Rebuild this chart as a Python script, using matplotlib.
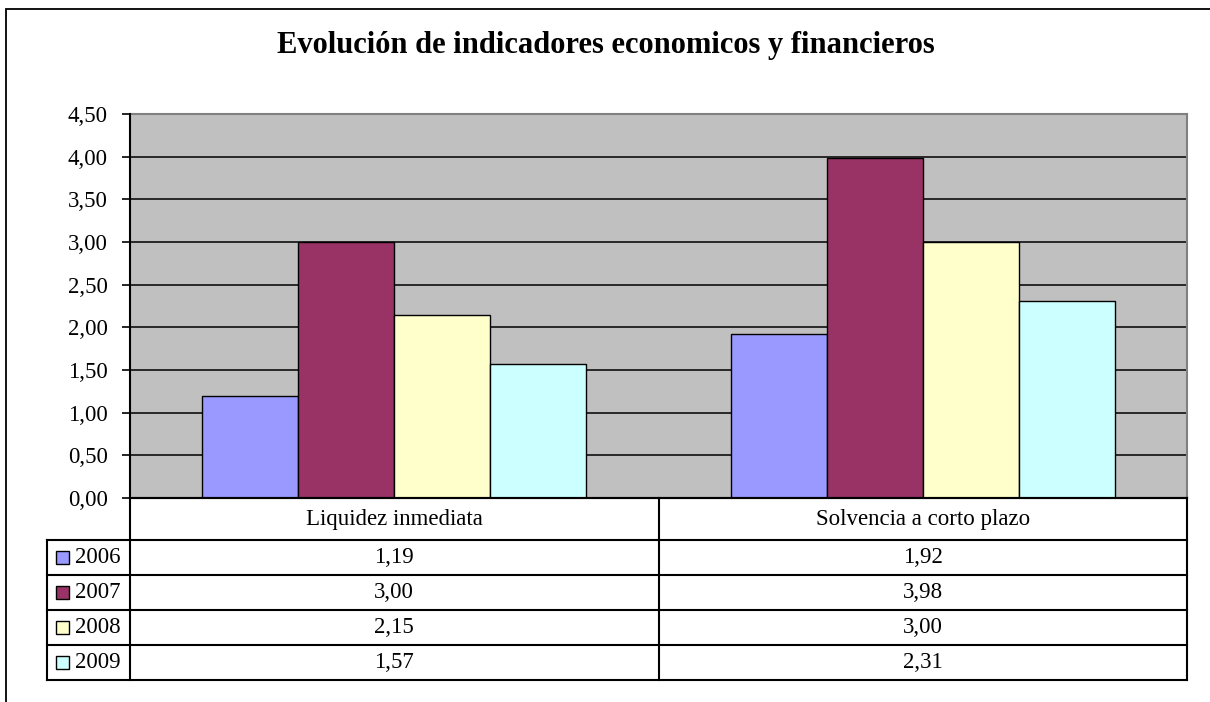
import numpy as np
import matplotlib.pyplot as plt
from matplotlib.lines import Line2D
from matplotlib.patches import Rectangle
from matplotlib.ticker import FuncFormatter

categories = ['Liquidez inmediata', 'Solvencia a corto plazo']
years = ['2006', '2007', '2008', '2009']
v2006 = [1.19, 1.92]
v2007 = [3.00, 3.98]
v2008 = [2.15, 3.00]
v2009 = [1.57, 2.31]
colors = ['#9999FF', '#993366', '#FFFFCC', '#CCFFFF']

series = [v2006, v2007, v2008, v2009]

plt.rcParams['font.family'] = ['Liberation Serif', 'DejaVu Serif']
W, H = 1210, 702
fig = plt.figure(figsize=(W / 100, H / 100), dpi=100)
fs = 16.5


def fx(px):
    return px / W


def fy(py):
    return 1 - py / H


# chart frame (runs off the right and bottom edge)
fig.add_artist(Rectangle((fx(6), fy(760)), fx(1260), 751 / H, transform=fig.transFigure,
                         fill=False, edgecolor='black', lw=1.3))

fig.text(fx(606), fy(46), 'Evolución de indicadores economicos y financieros',
         ha='center', va='center', fontsize=22, fontweight='bold')

L, R, T, B = 130, 1187, 114, 498
ax = fig.add_axes([fx(L), fy(B), (R - L) / W, (B - T) / H])
ax.set_facecolor('#C0C0C0')

x = np.arange(len(categories))
bw = 1 / 5.5
for i, vals in enumerate(series):
    ax.bar(x + (i - 1.5) * bw, vals, bw, color=colors[i], edgecolor='black', lw=1.0, zorder=3)

ax.set_xlim(-0.5, 1.5)
ax.set_ylim(0, 4.5)
ax.set_yticks(np.arange(0, 4.51, 0.5))
ax.yaxis.set_major_formatter(FuncFormatter(lambda v, p: f'{v:.2f}'.replace('.', ',')))
ax.tick_params(axis='y', labelsize=fs, length=6, width=1.2, direction='out', pad=10)
ax.set_xticks([])
ax.grid(axis='y', color='black', lw=1.1, zorder=1)
ax.set_axisbelow(True)
for s in ['top', 'right']:
    ax.spines[s].set_color('#808080')
    ax.spines[s].set_linewidth(1.5)
for s in ['left', 'bottom']:
    ax.spines[s].set_color('black')
    ax.spines[s].set_linewidth(1.5)
    ax.spines[s].set_zorder(4)


def hline(x0, x1, y, lw=1.5):
    fig.add_artist(Line2D([fx(x0), fx(x1)], [fy(y), fy(y)], transform=fig.transFigure,
                          color='black', lw=lw))


def vline(xp, y0, y1, lw=1.5):
    fig.add_artist(Line2D([fx(xp), fx(xp)], [fy(y0), fy(y1)], transform=fig.transFigure,
                          color='black', lw=lw))


# data table under the plot
rows = [540, 575, 610, 645, 680]
mid = (L + R) / 2
hline(L, R, B)
for r in rows:
    hline(47, R, r)
vline(L, B, rows[-1])
vline(mid, B, rows[-1])
vline(R, B, rows[-1])
vline(47, rows[0], rows[-1])

for j, cat in enumerate(categories):
    cx = L + (j + 0.5) * (R - L) / 2
    fig.text(fx(cx), fy((B + rows[0]) / 2 + 1), cat, ha='center', va='center', fontsize=fs)
    for i, vals in enumerate(series):
        cy = (rows[i] + rows[i + 1]) / 2
        fig.text(fx(cx), fy(cy), f'{vals[j]:.2f}'.replace('.', ','),
                 ha='center', va='center', fontsize=fs)

for i, yr in enumerate(years):
    cy = (rows[i] + rows[i + 1]) / 2
    fig.add_artist(Rectangle((fx(56), fy(cy + 6.5)), 13 / W, 13 / H, transform=fig.transFigure,
                             facecolor=colors[i], edgecolor='black', lw=1.0))
    fig.text(fx(75), fy(cy), yr, ha='left', va='center', fontsize=fs)

fig.savefig('out.png', dpi=100, facecolor='white')
